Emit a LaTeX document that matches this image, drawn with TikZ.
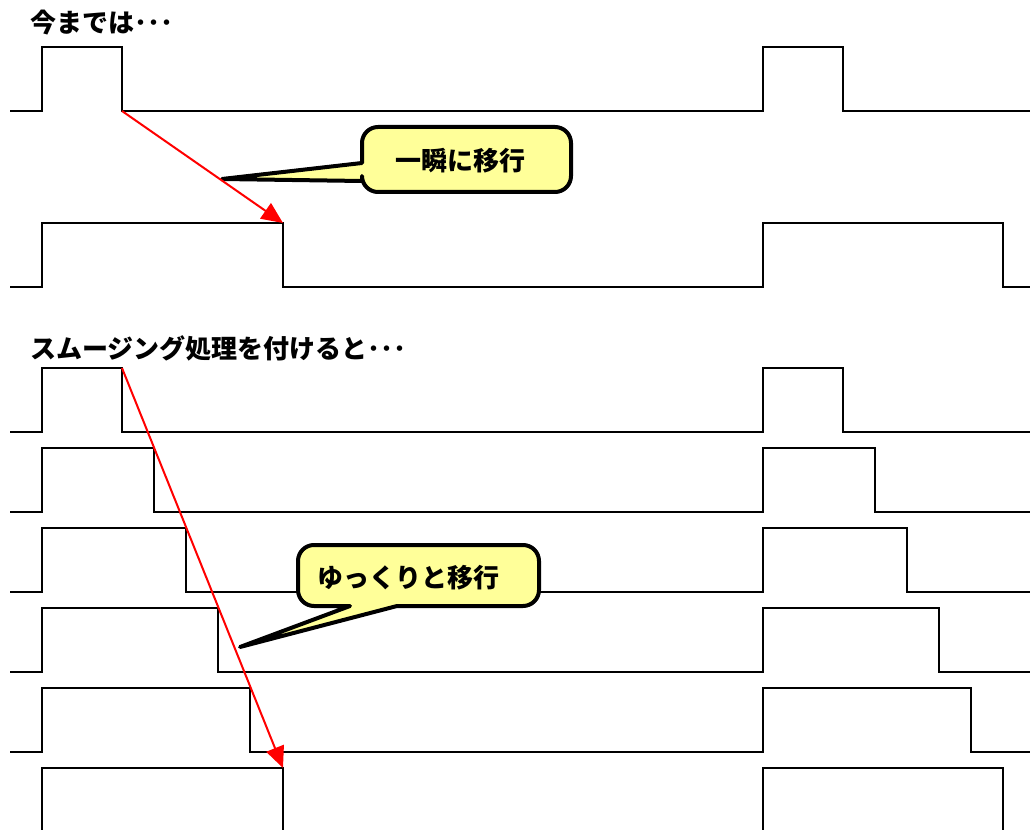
\documentclass[tikz,border=0pt]{standalone}
\usepackage{fontspec}
\newfontfamily\cjk{Noto Sans CJK JP}
\usetikzlibrary{arrows.meta}
\definecolor{calloutfill}{HTML}{FFFF99}
\definecolor{arrowred}{HTML}{FF0000}
\begin{document}
\begin{tikzpicture}[x=0.75pt,y=-0.75pt,
  wave/.style={draw=black,line width=1.5pt,line join=miter},
  title/.style={font=\cjk\bfseries\fontsize{19.5}{22}\selectfont,anchor=west,inner sep=0pt},
  callouttext/.style={font=\cjk\bfseries\fontsize{19.5}{22}\selectfont,inner sep=0pt},
  callout/.style={draw=black,line width=3pt,fill=calloutfill,line join=round},
  redarrow/.style={draw=arrowred,line width=1.5pt,-{Triangle[length=16pt,width=14pt]}}]
\useasboundingbox (0,0) rectangle (1030,830);

% titles
\node[title] (t1) at (30,23) {今までは･･･};
\node[title] (t2) at (30,348) {スムージング処理を付けると･･･};

% top waveforms
\draw[wave] (10,111) -- (42,111) -- (42,47) -- (122,47) -- (122,111) coordinate (fA)
  -- (763,111) -- (763,47) -- (843,47) -- (843,111) -- (1030,111);
\draw[wave] (10,287) -- (42,287) -- (42,223) -- (283,223) coordinate (fB) -- (283,287)
  -- (763,287) -- (763,223) -- (1003,223) -- (1003,287) -- (1030,287);

% bottom waveforms
\draw[wave] (10,432) -- (42,432) -- (42,368) -- (122,368) coordinate (fC) -- (122,432)
  -- (763,432) -- (763,368) -- (843,368) -- (843,432) -- (1030,432);
\draw[wave] (10,512) -- (42,512) -- (42,448) -- (154,448) -- (154,512)
  -- (763,512) -- (763,448) -- (875,448) -- (875,512) -- (1030,512);
\draw[wave] (10,592) -- (42,592) -- (42,528) -- (186,528) -- (186,592)
  -- (763,592) -- (763,528) -- (907,528) -- (907,592) -- (1030,592);
\draw[wave] (10,672) -- (42,672) -- (42,608) -- (218,608) -- (218,672)
  -- (763,672) -- (763,608) -- (939,608) -- (939,672) -- (1030,672);
\draw[wave] (10,752) -- (42,752) -- (42,688) -- (250,688) -- (250,752)
  -- (763,752) -- (763,688) -- (971,688) -- (971,752) -- (1030,752);
\draw[wave] (42,832) -- (42,768) -- (283,768) coordinate (fD) -- (283,832);
\draw[wave] (763,832) -- (763,768) -- (1003,768) -- (1003,832);

% callout 1
\coordinate (p1) at (222,179);
\draw[callout] (p1) -- (362,163) [rounded corners=12pt] -- (362,127) -- (571,127)
  -- (571,192) -- (362,192) [sharp corners] -- (362,181) -- cycle;
\node[callouttext] (c1) at (460,161) {一瞬に移行};

% callout 2
\coordinate (p2) at (240,647);
\draw[callout] (p2) -- (350,606) [rounded corners=12pt] -- (298,606) -- (298,545)
  -- (539,545) -- (539,606) [sharp corners] -- (397,606) -- cycle;
\node[callouttext] (c2) at (408,578) {ゆっくりと移行};

% red arrows
\draw[redarrow] (fA) -- (fB);
\draw[redarrow] (fC) -- (fD);
\end{tikzpicture}
\end{document}
